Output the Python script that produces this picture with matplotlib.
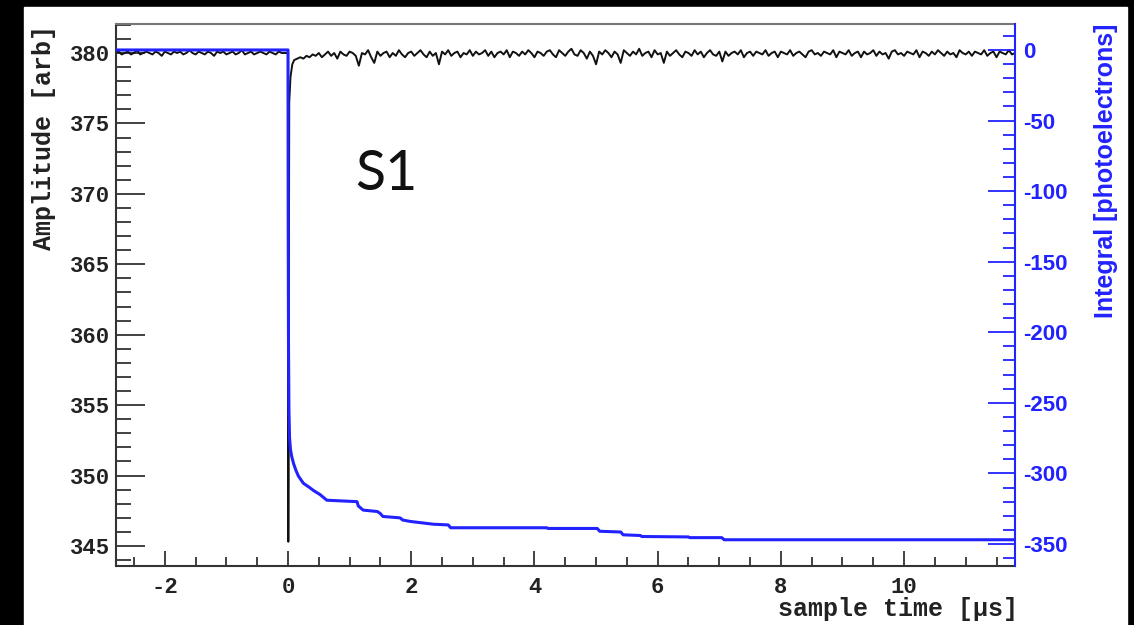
import numpy as np
import matplotlib
matplotlib.use("Agg")
import matplotlib.pyplot as plt
from matplotlib.patches import Rectangle
from matplotlib.ticker import MultipleLocator

plt.rcParams['axes.unicode_minus'] = False
plt.rcParams['font.family'] = 'Liberation Mono'
plt.rcParams['font.weight'] = 'bold'

# ---- amplitude trace (black), in units of 0.1 around the baseline ----
baseline = 380.0
dt = 0.05
pre_start = -2.8
pre_dev = [0, 1, -1, 0, 1, -1, 0, 2, -1, 0, 1, 0, -1, 1, 0, -2, 1, 0, -1, 1,
           0, 1, -1, 0, 2, 0, -1, 1, 0, -1, 1, 0, -2, 1, 0, 1, -1, 0, 1, -1,
           0, 2, -1, 0, 1, -1, 0, 1, 0, -1, 1, 0, -1, 1, 0, 0]
pulse_t = [0.0, 0.005, 0.02, 0.04, 0.07]
pulse_amp = [380.0, 345.3, 376.5, 378.3, 379.2]
post_start = 0.1
post_dev = [-5, -4, -3, -4, -2, -3, -1, -2, 0, -3, -1, 1, -2, 0, -4, 1, -1, -2, 1, 0,
            -2, -9, 0, -1, 2, -3, -7, 1, -2, 0, 1, -3, 0, -2, 2, -1, -3, 0, 1, -2,
            0, 2, -1, -3, 1, -2, 0, -8, 1, -1, 2, -2, 0, 1, -3, 0, -1, 2, -2, 1,
            -1, 0, 2, -2, 1, -3, 0, 1, -1, 2, -3, 1, 0, -2, 1, -1, 2, 0, -3, 1,
            0, -2, 1, 2, -1, -3, 2, 0, -2, 1, 3, -1, -2, 2, 0, -4, 1, -2, -8, 1,
            -1, 2, 0, -3, 1, -1, -7, 2, 0, -2, 1, -1, 3, -2, 0, 1, -3, 2, -1, 0,
            -7, 1, -2, 0, 2, -1, -3, 1, 0, -2, 2, -1, 1, -3, 0, 2, -1, -2, 1, -6,
            1, -2, 0, 1, -1, 2, -3, 0, 1, -2, 1, 0, -1, 2, -2, 0, 1, -3, 1, 0,
            -1, 2, -2, 0, 1, -1, -3, 1, 2, -1, 0, -2, 1, 0, -1, 2, -3, 1, 0, -1,
            2, -2, 0, 1, -3, 1, -1, 0, 2, -2, 1, -1, 0, -4, 1, 2, -1, 0, -2, 1,
            0, -1, 2, -3, 1, 0, -2, 1, -1, 2, 0, -2, 1, -1, 0, -3, 2, 0, -1, 1,
            -2, 1, 0, -1, 2, -2, 0, 1, -3, 1, 0, -1, 2, -1, 0, 1, -2, 1, 0, -1]

# ---- integral (blue), in photoelectrons ----
int_t = [-2.8, 0.0, 0.003, 0.008, 0.015, 0.025, 0.04, 0.06, 0.09, 0.13, 0.17,
         0.25, 0.35, 0.41, 0.52, 0.63, 1.12, 1.14, 1.22, 1.45, 1.5, 1.54, 1.82,
         1.86, 1.98, 2.36, 2.6, 2.64, 4.2, 4.22, 5.02, 5.06, 5.4, 5.44, 5.72,
         5.74, 6.5, 6.52, 7.04, 7.08, 11.8]
int_val = [0, 0, -120, -210, -255, -275, -283, -288, -293, -298, -302,
           -307, -310, -312, -315, -319, -320, -323, -326, -327, -328.5, -330.5, -331.5,
           -333, -334, -336, -336.5, -338.5, -338.5, -339, -339, -341, -341.5, -343.5, -344,
           -344.7, -345, -345.5, -345.5, -347, -347]

t_pre = pre_start + dt * np.arange(len(pre_dev))
t_post = post_start + dt * np.arange(len(post_dev))
amp_t = np.concatenate([t_pre, pulse_t, t_post])
amp = np.concatenate([baseline + 0.1 * np.array(pre_dev), pulse_amp,
                      baseline + 0.1 * np.array(post_dev)])

W, H = 1134, 625
fig = plt.figure(figsize=(W / 100, H / 100), dpi=100, facecolor='black')
fig.patches.append(Rectangle((24 / W, 0), (1127 - 24) / W, (H - 7) / H,
                             transform=fig.transFigure, color='white', zorder=-1))

ax = fig.add_axes([115.5 / W, 59 / H, 899.5 / W, 542 / H])
ax.plot(amp_t, amp, color='#111111', lw=1.4)
ax.set_xlim(-2.8, 11.8)
ax.set_ylim(343.58, 382.06)
ax.xaxis.set_major_locator(MultipleLocator(2))
ax.xaxis.set_minor_locator(MultipleLocator(0.5))
ax.yaxis.set_major_locator(MultipleLocator(5))
ax.yaxis.set_minor_locator(MultipleLocator(1))
ax.tick_params(which='both', direction='in', color='#333333', width=1.3,
               labelsize=16, labelcolor='#222222', top=False, right=False)
ax.tick_params(axis='y', which='major', length=21, pad=4)
ax.tick_params(axis='y', which='minor', length=11)
ax.tick_params(axis='x', which='major', length=11, pad=8)
ax.tick_params(axis='x', which='minor', length=6.5)
for s in ['left', 'bottom']:
    ax.spines[s].set_color('#333333')
    ax.spines[s].set_linewidth(1.5)
ax.spines['top'].set_color('#777777')
ax.spines['top'].set_linewidth(1.5)
ax.spines['right'].set_visible(False)

blue = '#2222ff'
ax2 = ax.twinx()
ax2.plot(int_t, int_val, color=blue, lw=2.2)
ax2.set_ylim(-365.6, 18.4)
ax2.yaxis.set_major_locator(MultipleLocator(50))
ax2.yaxis.set_minor_locator(MultipleLocator(10))
ax2.tick_params(axis='y', which='both', direction='in', color=blue, width=1.3,
                labelsize=16, labelcolor=blue, labelfontfamily='Liberation Sans')
ax2.tick_params(axis='y', which='major', length=19.5, pad=6)
ax2.tick_params(axis='y', which='minor', length=8.6)
for s in ['left', 'top', 'bottom']:
    ax2.spines[s].set_visible(False)
ax2.spines['right'].set_color(blue)
ax2.spines['right'].set_linewidth(1.5)

fig.text(44 / W, 1 - 25 / H, 'Amplitude [arb]', rotation=90, ha='center', va='top',
         fontsize=18, color='#222222')
fig.text(1018 / W, 1 - 609 / H, 'sample time [\u00b5s]', ha='right', va='center',
         fontsize=18, color='#222222')
fig.text(1106 / W, 1 - 24 / H, 'Integral [photoelectrons]', rotation=90, ha='center',
         va='top', fontsize=18, color=blue, family='Liberation Sans')
fig.text(355 / W, 1 - 190 / H, 'S1', fontsize=40, family='Lato', weight='normal',
         color='#111111', va='baseline')

fig.savefig('out.png', dpi=100, facecolor=fig.get_facecolor())
